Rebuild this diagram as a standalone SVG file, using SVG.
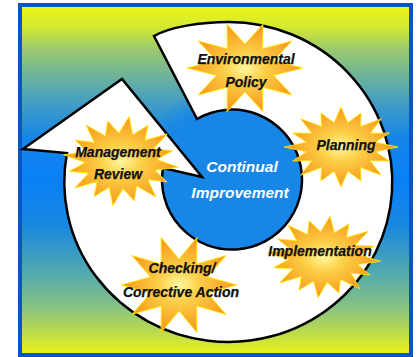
<svg xmlns="http://www.w3.org/2000/svg" xmlns:xlink="http://www.w3.org/1999/xlink" width="420" height="357" viewBox="0 0 420 357">
  <defs>
    <linearGradient id="bg" x1="0" y1="0" x2="0" y2="1">
      <stop offset="0" stop-color="#eef514"/>
      <stop offset="0.06" stop-color="#d6ea30"/>
      <stop offset="0.13" stop-color="#98c870"/>
      <stop offset="0.27" stop-color="#48a0c0"/>
      <stop offset="0.38" stop-color="#1585e8"/>
      <stop offset="0.5" stop-color="#0a80f8"/>
      <stop offset="0.63" stop-color="#1888e0"/>
      <stop offset="0.76" stop-color="#50a8b0"/>
      <stop offset="0.86" stop-color="#84c284"/>
      <stop offset="0.93" stop-color="#b8d850"/>
      <stop offset="1" stop-color="#eef514"/>
    </linearGradient>
    <radialGradient id="hub" cx="0.5" cy="0.5" r="0.5">
      <stop offset="0" stop-color="#1786e6"/>
      <stop offset="0.72" stop-color="#1786e6"/>
      <stop offset="1" stop-color="#1786e6" stop-opacity="0"/>
    </radialGradient>
    <radialGradient id="burst" cx="0.5" cy="0.5" r="0.5">
      <stop offset="0" stop-color="#fff7a0"/>
      <stop offset="0.35" stop-color="#fcd048"/>
      <stop offset="1" stop-color="#f7951a"/>
    </radialGradient>
    <polygon id="star10" points="100,0 49.5,-16.1 80.9,-58.8 30.6,-42.1 30.9,-95.1 0,-52 -30.9,-95.1 -30.6,-42.1 -80.9,-58.8 -49.5,-16.1 -100,0 -49.5,16.1 -80.9,58.8 -30.6,42.1 -30.9,95.1 0,52 30.9,95.1 30.6,42.1 80.9,58.8 49.5,16.1"/>
    <polygon id="star16" points="100,0 60.8,-12.1 85,-35.2 51.5,-34.5 70.7,-70.7 34.5,-51.5 35.2,-85 12.1,-60.8 0,-100 -12.1,-60.8 -35.2,-85 -34.5,-51.5 -70.7,-70.7 -51.5,-34.5 -85,-35.2 -60.8,-12.1 -100,0 -60.8,12.1 -85,35.2 -51.5,34.5 -70.7,70.7 -34.5,51.5 -35.2,85 -12.1,60.8 0,100 12.1,60.8 35.2,85 34.5,51.5 70.7,70.7 51.5,34.5 85,35.2 60.8,12.1"/>
  </defs>
  <style>
    .burst { fill: url(#burst); stroke: #ffea00; stroke-width: 1.6; vector-effect: non-scaling-stroke; stroke-linejoin: miter; }
    .lbl { font-family: "Liberation Sans", Arial, sans-serif; font-weight: bold; font-style: italic; font-size: 14px; fill: #111; stroke: #111; stroke-width: 0.25; text-anchor: middle; }
    .center { font-family: "Liberation Sans", Arial, sans-serif; font-weight: bold; font-style: italic; font-size: 15.5px; fill: #ffffff; text-anchor: middle; }
  </style>

  <rect x="20" y="5" width="391" height="350" fill="url(#bg)" stroke="#0a55c4" stroke-width="4"/>

  <g id="connectors">
    <circle cx="230" cy="181" r="98" fill="url(#hub)"/>
    <path id="cycle-arrow" d="M154,36 C170,27 200,22 229,22 A164,160 0 1 1 67,153 L23,149 L122,79 L202,177 L163,168 A70,70 0 1 0 197,119 Z" fill="#ffffff" stroke="#000000" stroke-width="2.5" stroke-linejoin="miter"/>
  </g>

  <g id="center-label">
    <text class="center" x="242" y="172">Continual</text>
    <text class="center" x="240" y="198">Improvement</text>
  </g>

  <g id="node-environmental-policy">
    <use href="#star10" class="burst" transform="translate(245,68) scale(0.58,0.46)"/>
    <text class="lbl" x="246" y="64">Environmental</text>
    <text class="lbl" x="246" y="87">Policy</text>
  </g>

  <g id="node-planning">
    <use href="#star16" class="burst" transform="translate(341,147) scale(0.57,0.40)"/>
    <text class="lbl" x="346" y="150">Planning</text>
  </g>

  <g id="node-implementation">
    <use href="#star16" class="burst" transform="translate(324,257) scale(0.57,0.41) rotate(6)"/>
    <text class="lbl" x="320" y="256">Implementation</text>
  </g>

  <g id="node-checking">
    <use href="#star10" class="burst" transform="translate(179,285) scale(0.58,0.50)"/>
    <text class="lbl" x="182" y="273">Checking/</text>
    <text class="lbl" x="181" y="297">Corrective Action</text>
  </g>

  <g id="node-management-review">
    <use href="#star16" class="burst" transform="translate(121,161) scale(0.58,0.45) rotate(8)"/>
    <text class="lbl" x="118" y="157">Management</text>
    <text class="lbl" x="118" y="179">Review</text>
  </g>
</svg>
